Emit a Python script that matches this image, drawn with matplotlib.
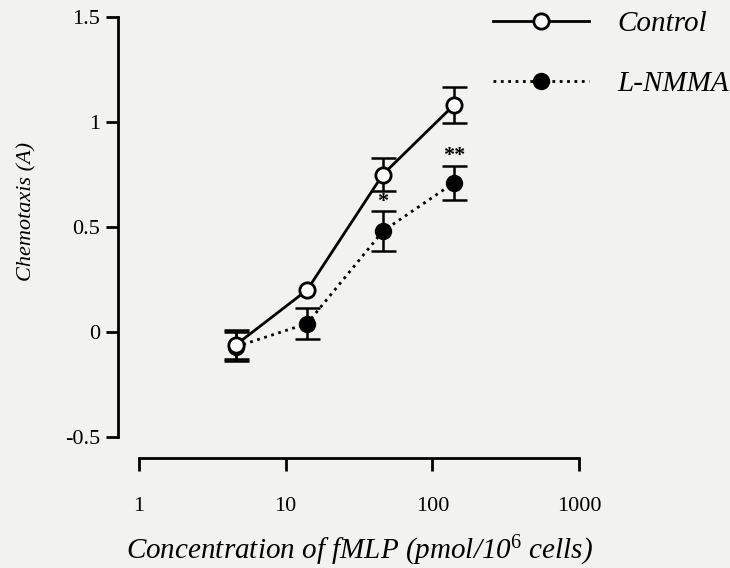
import numpy as np
import matplotlib
matplotlib.use("Agg")
import matplotlib.pyplot as plt
from matplotlib.lines import Line2D

# data
conc = [4.6, 14, 46, 140]
control = [-0.06, 0.20, 0.75, 1.08]
control_err = [0.07, 0.0, 0.08, 0.087]
lnmma = [-0.07, 0.04, 0.48, 0.71]
lnmma_err = [0.07, 0.075, 0.095, 0.08]
stars = ["", "", "*", "**"]
star_y = [None, None, 0.62, 0.84]

plt.rcParams['font.family'] = 'Liberation Serif'
plt.rcParams['mathtext.fontset'] = 'custom'
plt.rcParams['mathtext.rm'] = 'Liberation Serif'
plt.rcParams['mathtext.it'] = 'Liberation Serif:italic'

bg = '#f2f2f0'
fig = plt.figure(figsize=(7.3, 5.68), dpi=100, facecolor=bg)
ax = fig.add_axes([139/730, 1 - 437/568, 440/730, 420/568], facecolor=bg)

def errbars(x, y, e):
    # only the points that have a visible bar
    xs = [a for a, b in zip(x, e) if b > 0]
    ys = [a for a, b in zip(y, e) if b > 0]
    es = [b for b in e if b > 0]
    ax.errorbar(xs, ys, yerr=es, fmt='none', ecolor='black',
                capsize=9, capthick=1.8, elinewidth=1.8, zorder=2)

errbars(conc, lnmma, lnmma_err)
errbars(conc, control, control_err)

# L-NMMA first so the open circles sit on top
ax.plot(conc, lnmma, color='black', ls=':', lw=2, marker='o', ms=11.5,
        mfc='black', mec='black', zorder=3)
ax.plot(conc, control, color='black', ls='-', lw=2, marker='o', ms=11,
        mfc='white', mec='black', mew=2, zorder=4)

for x, s, y in zip(conc, stars, star_y):
    if s:
        ax.text(x, y, s, ha='center', va='center', fontsize=16, fontweight='bold')

ax.set_xscale('log')
ax.set_xlim(1, 1000)
ax.set_ylim(-0.5, 1.5)
ax.set_xticks([1, 10, 100, 1000])
ax.set_xticklabels(['1', '10', '100', '1000'])
ax.minorticks_off()
ax.set_yticks([-0.5, 0, 0.5, 1, 1.5])
ax.set_yticklabels(['-0.5', '0', '0.5', '1', '1.5'])

for side in ['top', 'right']:
    ax.spines[side].set_visible(False)
for side in ['left', 'bottom']:
    ax.spines[side].set_position(('outward', 15))
    ax.spines[side].set_linewidth(2)
ax.tick_params(axis='both', direction='out', length=9, width=2, labelsize=16, pad=4)
ax.tick_params(axis='x', pad=19)

ax.set_xlabel('Concentration of fMLP (pmol/10$^{6}$ cells)', fontsize=21,
              fontstyle='italic', labelpad=13)
ax.set_ylabel('Chemotaxis (A)', fontsize=16, fontstyle='italic')
ax.yaxis.set_label_coords(-0.232, 0.536)

handles = [
    Line2D([], [], color='black', ls='-', lw=2, marker='o', ms=11,
           mfc='white', mec='black', mew=2),
    Line2D([], [], color='black', ls=':', lw=2, marker='o', ms=11.5,
           mfc='black', mec='black'),
]
ax.legend(handles, ['Control', 'L-NMMA'], loc='upper left',
          bbox_to_anchor=(493/730, 1 - 11/568), bbox_transform=fig.transFigure,
          frameon=False, handlelength=3.29, handletextpad=0.96,
          borderpad=0, borderaxespad=0, labelspacing=1.15,
          prop={'style': 'italic', 'size': 21})

fig.savefig('out.png', dpi=100, facecolor=bg)
